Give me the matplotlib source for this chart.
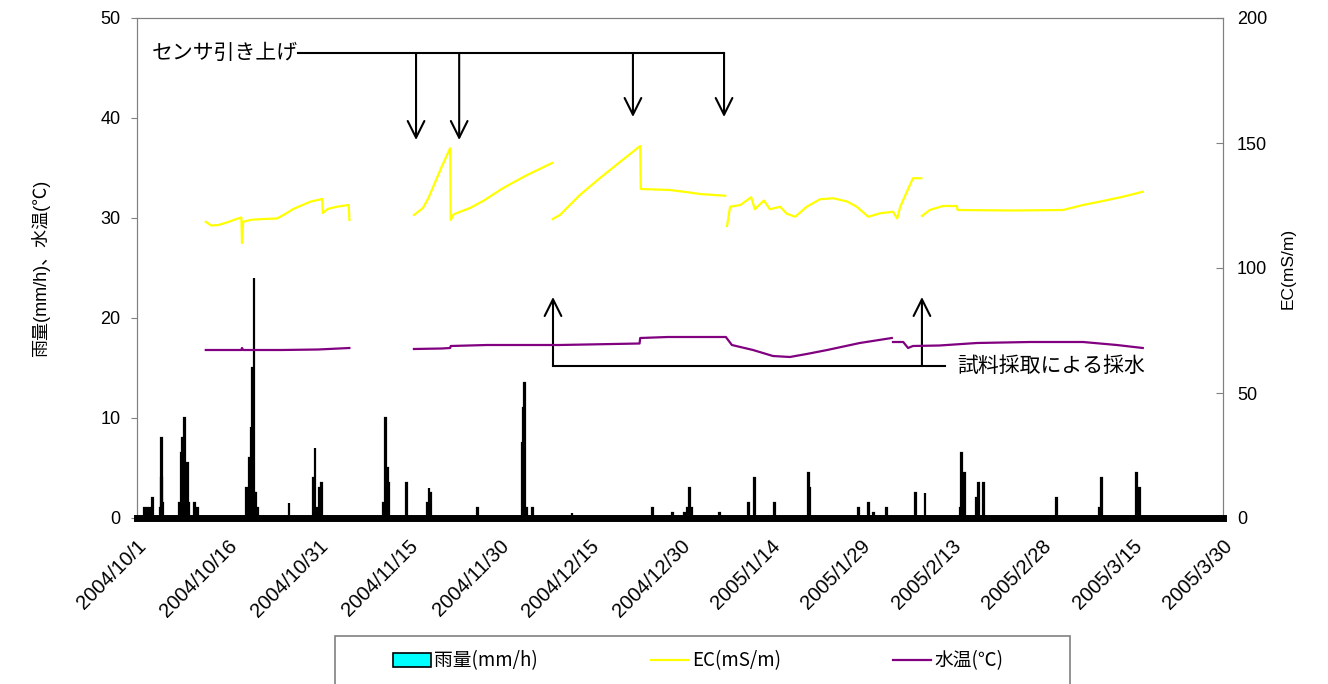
import numpy as np
import pandas as pd
import matplotlib
matplotlib.use('Agg')
import matplotlib.pyplot as plt
from matplotlib.patches import Patch, Rectangle
from matplotlib.lines import Line2D

plt.rcParams['font.family'] = ['Liberation Sans', 'Noto Sans CJK JP']

START = pd.Timestamp('2004-10-01')

# 時間雨量 (2004/10/1からの経過日数, mm/h)
rain_day = [1.3, 1.7, 2.2, 2.5,
            3.9, 4.0, 4.1, 4.3,
            7.1, 7.4, 7.6, 7.8, 8.1, 8.3, 8.5, 9.5, 10.0,
            18.2, 18.4, 18.6, 18.8, 19.0, 19.2, 19.4, 19.5, 19.7, 19.9,
            25.2, 29.2, 29.5, 29.7, 30.3, 30.6,
            40.9, 41.2, 41.5, 41.7, 44.7, 48.1, 48.4, 48.7, 56.4,
            63.9, 64.0, 64.3, 64.6, 65.5,
            72.1, 85.5, 88.8, 90.8, 91.2, 91.5, 91.9, 96.6,
            101.3, 102.4, 105.7, 111.3, 111.5, 119.6, 121.2, 122.1, 124.2,
            129.1, 130.6, 136.5, 136.7, 137.1, 139.2, 139.5, 140.3,
            152.4, 159.6, 159.9, 165.7, 166.2]
rain_mm = [1.0, 1.0, 1.0, 2.0,
           1.0, 4.0, 8.0, 1.5,
           1.5, 6.5, 8.0, 10.0, 4.0, 5.5, 1.5, 1.5, 1.0,
           3.0, 1.5, 6.0, 3.0, 9.0, 15.0, 24.0, 2.5, 2.5, 1.0,
           1.5, 4.0, 7.0, 1.0, 3.0, 3.5,
           1.5, 10.0, 5.0, 3.5, 3.5, 1.5, 3.0, 2.5, 1.0,
           7.5, 11.0, 13.5, 1.0, 1.0,
           0.5, 1.0, 0.5, 0.5, 1.0, 3.0, 1.0, 0.5,
           1.5, 4.0, 1.5, 4.5, 3.0, 1.0, 1.5, 0.5, 1.0,
           2.5, 2.5, 1.0, 6.5, 4.5, 2.0, 3.5, 3.5,
           2.0, 1.0, 4.0, 4.5, 3.0]

# EC (経過日数, mS/m)  欠測は NaN
ec_day = [11.4, 12.3, 13.5, 15.0, 16.5, 17.3, 17.4, 17.6, 19.0, 21.0, 23.2, 24.5, 25.9,
          28.7, 30.7, 30.8, 31.6, 33.1, 35.1, 35.2,
          40.0,
          45.9, 47.4, 48.3, 49.1, 50.5, 51.9, 52.0, 52.5, 55.2, 57.5, 60.7, 64.5, 68.8,
          68.85,
          68.9, 70.1, 73.4, 76.7, 80.1, 83.4, 83.5, 86.0, 88.3, 91.0, 93.3, 97.5,
          97.65,
          97.8, 98.3, 100.0, 101.8, 102.4, 103.9, 104.9, 106.6, 107.7, 109.1, 111.0, 113.2,
          115.4, 117.7, 119.3, 121.2, 123.2, 125.3, 126.0, 126.5, 127.6, 128.6, 130.0,
          130.05,
          130.1, 131.4, 133.6, 135.9, 136.0, 145.0, 153.5, 156.8, 160.1, 163.4, 166.7]
ec_val = [118.5, 117.0, 117.2, 118.3, 119.6, 120.2, 110.0, 118.5, 119.3, 119.6, 119.8, 121.5, 123.6,
          126.5, 127.6, 122.0, 123.6, 124.5, 125.2, 119.2,
          np.nan,
          121.2, 124.0, 128.0, 132.5, 140.5, 147.9, 119.2, 121.5, 124.0, 127.0, 132.0, 137.0, 142.0,
          np.nan,
          119.6, 121.2, 129.2, 135.9, 142.5, 148.8, 131.6, 131.4, 131.2, 130.4, 129.6, 128.9,
          np.nan,
          116.8, 124.5, 125.2, 128.3, 123.5, 127.0, 123.5, 124.5, 121.7, 120.5, 124.5, 127.5,
          127.9, 126.6, 124.5, 120.5, 121.9, 122.5, 119.8, 124.5, 130.5, 135.9, 135.9,
          np.nan,
          120.8, 123.2, 124.8, 124.8, 123.2, 123.0, 123.2, 125.2, 126.8, 128.5, 130.5]

# 水温 (経過日数, ℃)
temp_day = [11.4, 17.3, 17.4, 17.6, 24.0, 30.0, 35.2,
            40.0,
            45.9, 50.5, 51.9, 52.0, 58.0, 70.0, 78.9, 83.3, 83.4, 88.0, 97.6, 98.6,
            102.1, 105.4, 108.2, 111.0, 114.4, 119.8, 125.1,
            125.2,
            125.3, 127.0, 127.8, 128.6, 133.0, 139.2, 148.0, 156.8, 162.4, 166.7]
temp_val = [16.8, 16.8, 17.0, 16.8, 16.8, 16.85, 17.0,
            np.nan,
            16.9, 16.95, 17.0, 17.2, 17.3, 17.3, 17.4, 17.45, 18.0, 18.1, 18.1, 17.3,
            16.8, 16.2, 16.1, 16.4, 16.8, 17.5, 18.0,
            np.nan,
            17.6, 17.6, 17.0, 17.2, 17.25, 17.5, 17.6, 17.6, 17.3, 17.0]

tick_day = list(range(0, 181, 15))

# 注記 (経過日数)
lift_day = [46.25, 53.4, 82.2, 97.3]
lift_end = [37.8, 37.8, 40.1, 40.1]
sample_day = [68.95, 130.1]


def to_date(days):
    return START + pd.to_timedelta(np.asarray(days, dtype=float), unit='D')


fig = plt.figure(figsize=(13.28, 6.84), dpi=100)
ax = fig.add_axes([137 / 1328, 1 - 518 / 684, (1223 - 137) / 1328, 500 / 684])
ax2 = ax.twinx()

ax.bar(to_date(rain_day), rain_mm, width=0.15, color='black', edgecolor='black',
       linewidth=1.6, zorder=3)
ax.axhline(0, color='black', lw=5, clip_on=False, zorder=4)
ax2.plot(to_date(ec_day), ec_val, color='#FFFF00', lw=1.6)
ax.plot(to_date(temp_day), temp_val, color='#800080', lw=1.6, zorder=5)

ax.set_ylim(0, 50)
ax2.set_ylim(0, 200)
ax.set_xlim(to_date([0])[0], to_date([180])[0])
ax.set_yticks(range(0, 51, 10))
ax2.set_yticks(range(0, 201, 50))

ticks = to_date(tick_day)
ax.set_xticks(ticks)
ax.set_xticklabels([f'{d.year}/{d.month}/{d.day}' for d in ticks], rotation=45,
                   ha='right', va='top', rotation_mode='anchor', fontsize=14.5)
ax.tick_params(axis='x', length=0, pad=13)
ax.tick_params(axis='y', labelsize=13, length=4, color='#808080', pad=8)
ax2.tick_params(axis='y', labelsize=13, direction='in', length=5, color='#808080', pad=10)

for a in (ax, ax2):
    for s in a.spines.values():
        s.set_color('#808080')

ax.set_ylabel('雨量(mm/h)、水温(℃)', fontsize=13, labelpad=36)
ax2.set_ylabel('EC(mS/m)', fontsize=12.5, labelpad=10)

ax.set_zorder(ax2.get_zorder() + 1)
ax.patch.set_visible(False)

# センサ引き上げ
arrow_kw = dict(arrowstyle='->, head_length=0.6, head_width=0.3', color='black', lw=1.5,
                mutation_scale=20, shrinkA=0, shrinkB=0)
top_y = 46.5
ax.plot(to_date([26.7, lift_day[-1]]), [top_y, top_y], color='black', lw=1.5)
ax.text(to_date([26.7])[0], top_y, 'センサ引き上げ', ha='right', va='center',
        fontsize=15, family=['Noto Sans CJK JP'])
for d, e in zip(lift_day, lift_end):
    x = to_date([d])[0]
    ax.annotate('', xy=(x, e), xytext=(x, top_y), arrowprops=arrow_kw)

# 試料採取による採水
low_y = 15.2
ax.plot(to_date([sample_day[0], 133.9]), [low_y, low_y], color='black', lw=1.5)
ax.text(to_date([135.9])[0], low_y, '試料採取による採水', ha='left', va='center',
        fontsize=15, family=['Noto Sans CJK JP'])
for d in sample_day:
    x = to_date([d])[0]
    ax.annotate('', xy=(x, 22.1), xytext=(x, low_y), arrowprops=arrow_kw)

# 凡例
handles = [Patch(facecolor='#00FFFF', edgecolor='black', lw=1.2),
           Line2D([], [], color='#FFFF00', lw=1.6),
           Line2D([], [], color='#800080', lw=1.6)]
labels = ['雨量(mm/h)', 'EC(mS/m)', '水温(℃)']
fig.legend(handles, labels, loc='center left', bbox_to_anchor=(393 / 1328, 1 - 661 / 684),
           ncol=3, frameon=False, prop={'family': ['Noto Sans CJK JP'], 'size': 13.5},
           handlelength=2.0, handletextpad=0.2, borderpad=0, borderaxespad=0,
           columnspacing=6.0)
fig.add_artist(Rectangle((335 / 1328, -0.01), 735 / 1328, 55 / 684, transform=fig.transFigure,
                         fill=False, edgecolor='#808080', lw=1.2))

fig.savefig('out.png', dpi=100)
